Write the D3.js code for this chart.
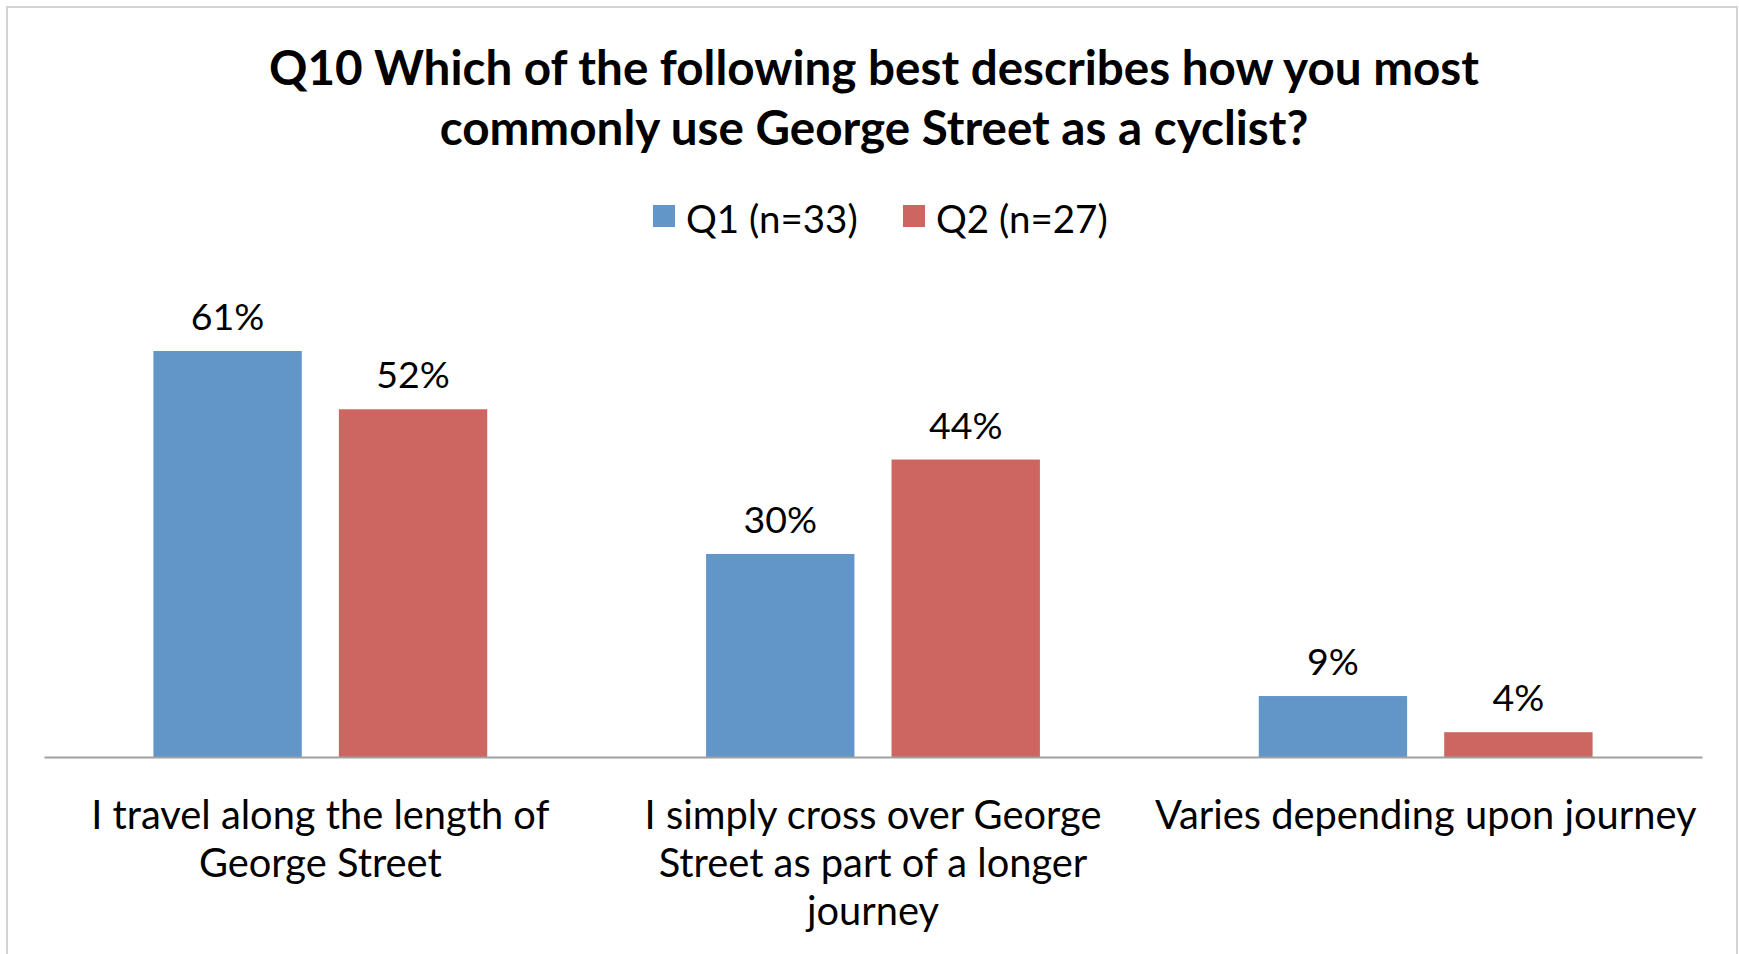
<!DOCTYPE html>
<html>
<head>
<meta charset="utf-8">
<script src="https://cdn.jsdelivr.net/npm/d3@7"></script>
<style>
  body { margin: 0; background: #fff; }
  text { font-family: Lato, "Open Sans", sans-serif; fill: #000; }
</style>
</head>
<body>
<svg id="root"></svg>
<script>
// chart data
const titleLines = ["Q10 Which of the following best describes how you most", "commonly use George Street as a cyclist?"];
const categories = [
  "I travel along the length of\nGeorge Street",
  "I simply cross over George\nStreet as part of a longer\njourney",
  "Varies depending upon journey"
];
const seriesNames = ["Q1 (n=33)", "Q2 (n=27)"];
const q1Values = [0.606, 0.303, 0.091];
const q2Values = [0.519, 0.444, 0.037];
const colors = ["#6296C9", "#CD6660"];

(function () {
  let width = 1739, height = 954;
  let margin = {left: 44, right: 37, top: 288, bottom: 197};

  let svg = d3.select("#root")
    .attr("width", width)
    .attr("height", height);

  // chart frame
  svg.append("rect")
    .attr("x", 7).attr("y", 7)
    .attr("width", 1730).attr("height", 980)
    .attr("fill", "#fff")
    .attr("stroke", "#D3D3D3")
    .attr("stroke-width", 2);

  let rows = categories.map((c, i) => ({cat: c, values: [q1Values[i], q2Values[i]]}));

  let x0 = d3.scaleBand()
    .domain(categories)
    .range([margin.left, width - margin.right]);

  let x1 = d3.scaleBand()
    .domain(d3.range(seriesNames.length))
    .range([0, x0.bandwidth()])
    .paddingInner(0.2)
    .paddingOuter(0.59);

  let y = d3.scaleLinear()
    .domain([0, 0.7])
    .range([height - margin.bottom, margin.top]);

  // title
  svg.append("text")
    .attr("text-anchor", "middle")
    .style("font-weight", "bold")
    .style("font-size", "47.6px")
    .selectAll("tspan")
    .data(titleLines)
    .enter().append("tspan")
    .attr("x", 874)
    .attr("y", (d, i) => 85 + i * 60)
    .text(d => d);

  // legend
  let legend = svg.append("g").attr("class", "legend");
  let legendX = [653, 903];
  seriesNames.forEach((name, i) => {
    legend.append("rect")
      .attr("x", legendX[i]).attr("y", 205)
      .attr("width", 22).attr("height", 22)
      .attr("fill", colors[i]);
    legend.append("text")
      .attr("x", legendX[i] + 33).attr("y", 233)
      .style("font-size", "38.5px")
      .text(name);
  });

  // bars
  let groups = svg.selectAll(".group")
    .data(rows)
    .enter().append("g")
    .attr("class", "group")
    .attr("transform", d => `translate(${x0(d.cat)},0)`);

  groups.selectAll("rect")
    .data(d => d.values)
    .enter().append("rect")
    .attr("x", (d, i) => x1(i))
    .attr("width", x1.bandwidth())
    .attr("y", d => y(d))
    .attr("height", d => y(0) - y(d))
    .attr("fill", (d, i) => colors[i]);

  groups.selectAll(".label")
    .data(d => d.values)
    .enter().append("text")
    .attr("class", "label")
    .attr("text-anchor", "middle")
    .attr("x", (d, i) => x1(i) + x1.bandwidth() / 2)
    .attr("y", d => y(d) - 21)
    .style("font-size", "37.5px")
    .text(d => d3.format(".0%")(d));

  // x axis
  let xAxis = svg.append("g")
    .attr("transform", `translate(0,${y(0)})`)
    .call(d3.axisBottom(x0).tickSize(0).tickFormat(""));
  xAxis.select(".domain").attr("stroke", "#A0A0A0").attr("stroke-width", 2);

  let catLabels = svg.selectAll(".cat")
    .data(categories)
    .enter().append("text")
    .attr("class", "cat")
    .attr("text-anchor", "middle")
    .style("font-size", "39.8px");

  catLabels.selectAll("tspan")
    .data(d => d.split("\n").map(line => ({line, cat: d})))
    .enter().append("tspan")
    .attr("x", d => x0(d.cat) + x0.bandwidth() / 2)
    .attr("y", (d, i) => 829 + i * 48)
    .text(d => d.line);
})();
</script>
</body>
</html>
